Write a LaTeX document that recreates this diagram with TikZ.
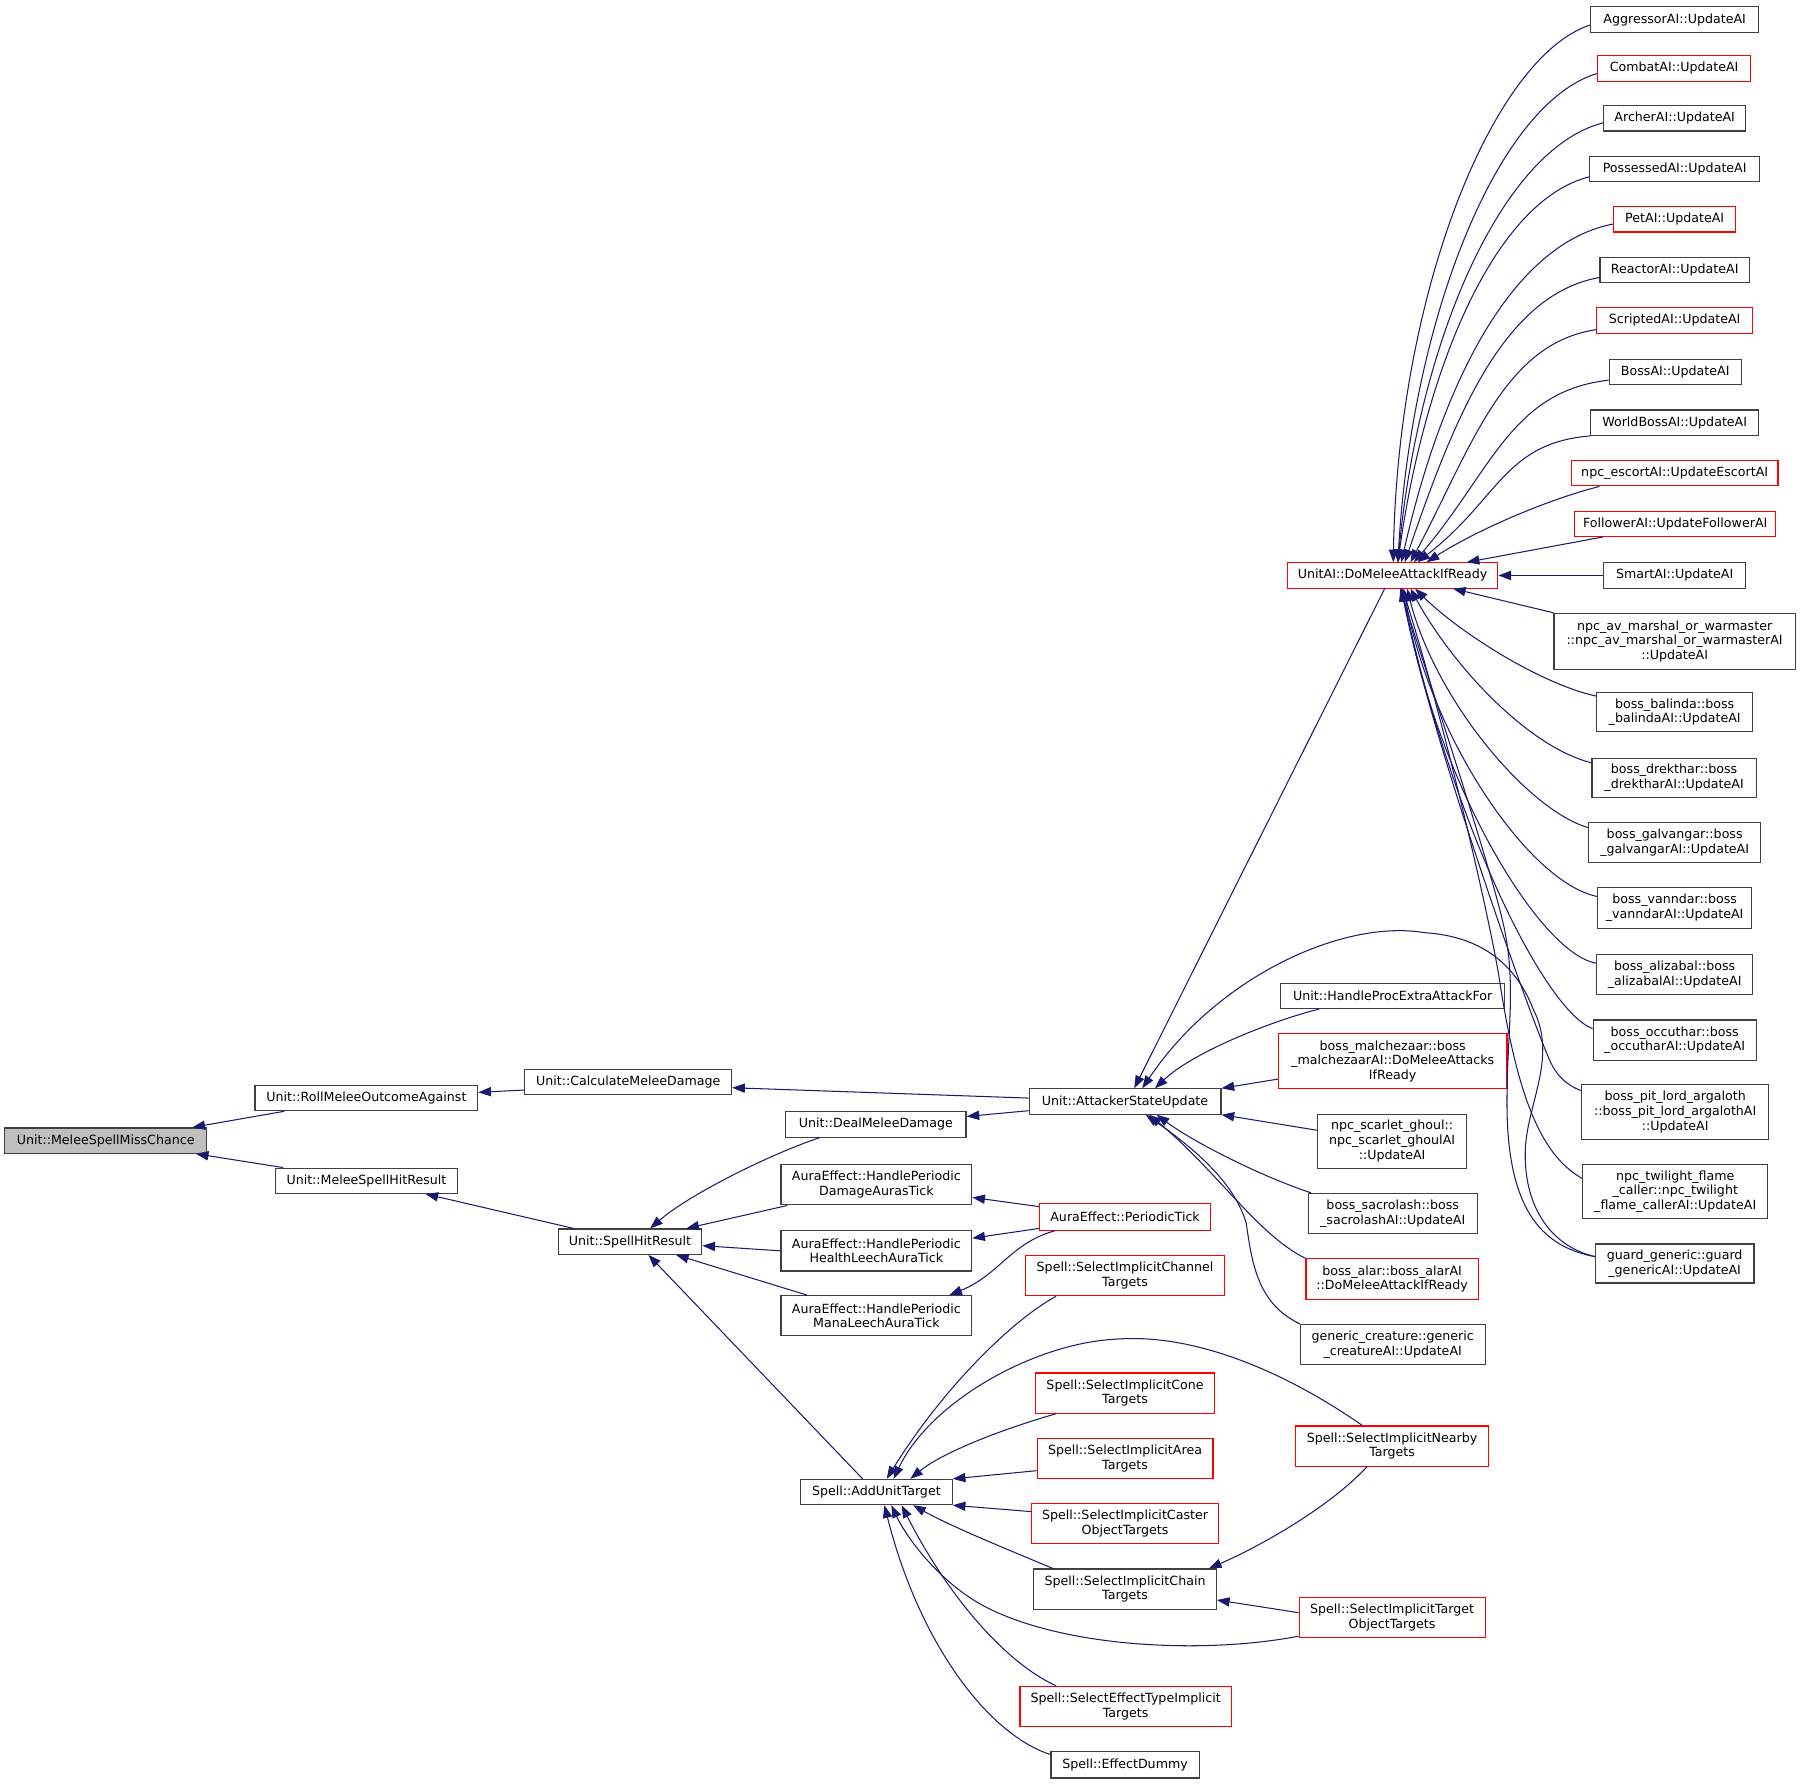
\documentclass[tikz,border=0pt]{standalone}
\usepackage{fontspec}
\setmainfont{DejaVu Sans}
\usetikzlibrary{arrows.meta,calc}
\definecolor{edgeblue}{HTML}{191970}
\definecolor{boxred}{HTML}{FF0000}
\definecolor{boxgray}{HTML}{BFBFBF}
\definecolor{boxblack}{HTML}{404040}
\begin{document}
\begin{tikzpicture}[x=1pt,y=-1pt,
  box/.style={draw=boxblack, line width=1pt, fill=white, inner sep=0pt, align=center,
    font=\fontsize{11}{12.8}\selectfont},
  rbox/.style={box, draw=boxred},
  edge/.style={draw=edgeblue, line width=0.9pt, -{Triangle[length=11pt,width=8pt]}}]
\fill[white] (0,0) rectangle (1568,1553);
\useasboundingbox (0,0) rectangle (1568,1553);

% ---------------- left part ----------------
\node[box,fill=boxgray,minimum width=176,minimum height=22] (ms) at (92,993) {Unit::MeleeSpellMissChance};
\node[box,minimum width=194,minimum height=22] (roll) at (319,956) {Unit::RollMeleeOutcomeAgainst};
\node[box,minimum width=158,minimum height=22] (mshr) at (319,1028) {Unit::MeleeSpellHitResult};
\node[box,minimum width=180,minimum height=22] (calc) at (547,942) {Unit::CalculateMeleeDamage};
\node[box,minimum width=125,minimum height=22] (shr) at (548.5,1081) {Unit::SpellHitResult};
\node[box,minimum width=157,minimum height=22] (deal) at (762.5,979) {Unit::DealMeleeDamage};
\node[box,minimum width=166,minimum height=35] (dmg) at (763,1031.5) {AuraEffect::HandlePeriodic\\DamageAurasTick};
\node[box,minimum width=166,minimum height=35] (hl) at (763,1089) {AuraEffect::HandlePeriodic\\HealthLeechAuraTick};
\node[box,minimum width=166,minimum height=35] (mana) at (763,1145.5) {AuraEffect::HandlePeriodic\\ManaLeechAuraTick};
\node[rbox,minimum width=149,minimum height=23] (pt) at (979.5,1059.5) {AuraEffect::PeriodicTick};
\node[box,minimum width=167,minimum height=22] (asu) at (979.5,959) {Unit::AttackerStateUpdate};
\node[box,minimum width=132,minimum height=22] (aut) at (763,1299) {Spell::AddUnitTarget};
\node[rbox,minimum width=173,minimum height=35] (chan) at (979.5,1110.5) {Spell::SelectImplicitChannel\\Targets};
\node[rbox,minimum width=156,minimum height=35] (cone) at (979.5,1212.8) {Spell::SelectImplicitCone\\Targets};
\node[rbox,minimum width=153,minimum height=35] (area) at (979.5,1269.7) {Spell::SelectImplicitArea\\Targets};
\node[rbox,minimum width=163,minimum height=35] (cast) at (979.5,1326.5) {Spell::SelectImplicitCaster\\ObjectTargets};
\node[box,minimum width=159,minimum height=35] (chain) at (979.5,1383.5) {Spell::SelectImplicitChain\\Targets};
\node[rbox,minimum width=184,minimum height=35] (efft) at (980,1485.7) {Spell::SelectEffectTypeImplicit\\Targets};
\node[box,minimum width=129,minimum height=23] (dummy) at (979.5,1536.5) {Spell::EffectDummy};
\node[rbox,minimum width=168,minimum height=35] (near) at (1212,1259) {Spell::SelectImplicitNearby\\Targets};
\node[rbox,minimum width=162,minimum height=35] (tobj) at (1212,1408.5) {Spell::SelectImplicitTarget\\ObjectTargets};

% ---------------- middle column ----------------
\node[rbox,minimum width=183,minimum height=22] (dm) at (1212.5,501) {UnitAI::DoMeleeAttackIfReady};
\node[box,minimum width=195,minimum height=22] (hpe) at (1212.5,867) {Unit::HandleProcExtraAttackFor};
\node[rbox,minimum width=199,minimum height=48] (mal) at (1212.5,924) {boss\_malchezaar::boss\\\_malchezaarAI::DoMeleeAttacks\\IfReady};
\node[box,minimum width=130,minimum height=47] (scg) at (1212,993.5) {npc\_scarlet\_ghoul::\\npc\_scarlet\_ghoulAI\\::UpdateAI};
\node[box,minimum width=147,minimum height=35] (sac) at (1212.5,1056.5) {boss\_sacrolash::boss\\\_sacrolashAI::UpdateAI};
\node[rbox,minimum width=150,minimum height=35] (alar) at (1212,1113.5) {boss\_alar::boss\_alarAI\\::DoMeleeAttackIfReady};
\node[box,minimum width=161,minimum height=35] (gen) at (1212.5,1170.5) {generic\_creature::generic\\\_creatureAI::UpdateAI};

% ---------------- right column ----------------
\node[box,minimum width=146,minimum height=22] (agg) at (1458,17) {AggressorAI::UpdateAI};
\node[rbox,minimum width=133,minimum height=23] (com) at (1457.5,59.5) {CombatAI::UpdateAI};
\node[box,minimum width=124,minimum height=22] (arc) at (1458,103) {ArcherAI::UpdateAI};
\node[box,minimum width=148,minimum height=22] (pos) at (1458,147) {PossessedAI::UpdateAI};
\node[rbox,minimum width=106,minimum height=22] (pet) at (1458,191) {PetAI::UpdateAI};
\node[box,minimum width=130,minimum height=22] (rea) at (1458,235) {ReactorAI::UpdateAI};
\node[rbox,minimum width=136,minimum height=22] (scr) at (1458,279) {ScriptedAI::UpdateAI};
\node[box,minimum width=115,minimum height=22] (bos) at (1458.5,324) {BossAI::UpdateAI};
\node[box,minimum width=146,minimum height=22] (wbo) at (1458,368) {WorldBossAI::UpdateAI};
\node[rbox,minimum width=180,minimum height=22] (esc) at (1458,412) {npc\_escortAI::UpdateEscortAI};
\node[rbox,minimum width=175,minimum height=22] (fol) at (1458.5,456) {FollowerAI::UpdateFollowerAI};
\node[box,minimum width=124,minimum height=22] (sma) at (1458,501) {SmartAI::UpdateAI};
\node[box,minimum width=210,minimum height=49] (av) at (1458,558.5) {npc\_av\_marshal\_or\_warmaster\\::npc\_av\_marshal\_or\_warmasterAI\\::UpdateAI};
\node[box,minimum width=136,minimum height=34] (bal) at (1458,620) {boss\_balinda::boss\\\_balindaAI::UpdateAI};
\node[box,minimum width=143,minimum height=34] (dre) at (1457.5,677) {boss\_drekthar::boss\\\_drektharAI::UpdateAI};
\node[box,minimum width=150,minimum height=35] (gal) at (1458,733.5) {boss\_galvangar::boss\\\_galvangarAI::UpdateAI};
\node[box,minimum width=134,minimum height=35] (van) at (1458,790.5) {boss\_vanndar::boss\\\_vanndarAI::UpdateAI};
\node[box,minimum width=136,minimum height=35] (ali) at (1458,848.5) {boss\_alizabal::boss\\\_alizabalAI::UpdateAI};
\node[box,minimum width=142,minimum height=35] (occ) at (1458,905.5) {boss\_occuthar::boss\\\_occutharAI::UpdateAI};
\node[box,minimum width=163,minimum height=48] (pit) at (1458.5,968) {boss\_pit\_lord\_argaloth\\::boss\_pit\_lord\_argalothAI\\::UpdateAI};
\node[box,minimum width=161,minimum height=47] (twi) at (1458.5,1037.5) {npc\_twilight\_flame\\\_caller::npc\_twilight\\\_flame\_callerAI::UpdateAI};
\node[box,minimum width=138,minimum height=34] (gua) at (1458,1100) {guard\_generic::guard\\\_genericAI::UpdateAI};

% ---------------- edges: left ----------------
\draw[edge] ($(roll.south west)+(26,0)$) -- ($(ms.north east)+(-13,0)$);
\draw[edge] ($(mshr.north west)+(7,0)$) -- ($(ms.south east)+(-10,0)$);
\draw[edge] ($(calc.west)+(0,7)$) -- ($(roll.east)+(0,-5)$);
\draw[edge] ($(shr.north west)+(14,0)$) -- ($(mshr.south east)+(-28,0)$);
\draw[edge] ($(asu.west)+(0,-3)$) -- ($(calc.east)+(0,5)$);
\draw[edge] ($(asu.west)+(0,8)$) -- ($(deal.east)+(0,-7)$);
\draw[edge] ($(deal.south west)+(30,0)$) .. controls (670,1005) and (600,1040) .. ($(shr.north)+(17.5,0)$);
\draw[edge] ($(dmg.south west)+(6,0)$) -- ($(shr.north east)+(-14,0)$);
\draw[edge] (hl.west) -- ($(shr.east)+(0,3.5)$);
\draw[edge] ($(mana.north west)+(23,0)$) -- ($(shr.south)+(40,0)$);
\draw[edge] ($(aut.north)+(-12,0)$) -- ($(shr.south)+(16,0)$);
\draw[edge] ($(pt.west)+(0,-9)$) -- ($(dmg.east)+(0,11)$);
\draw[edge] ($(pt.west)+(0,10)$) -- ($(hl.east)+(0,-11)$);
\draw[edge] ($(pt.south west)+(14,0)$) .. controls (880,1082) and (870,1110) .. ($(mana.north east)+(-20,0)$);

% ---------------- edges: into AttackerStateUpdate ----------------
\draw[edge] ($(dm.south)+(-7,0)$) -- ($(asu.north)+(8,0)$);
\draw[edge] ($(hpe.south west)+(34,0)$) .. controls (1110,888) and (1040,915) .. ($(asu.north)+(26,0)$);
\draw[edge] ($(mal.south west)+(0,-9)$) -- (asu.north east);
\draw[edge] ($(scg.west)+(0,-9.5)$) -- (asu.south east);
\draw[edge] ($(sac.north west)+(3,0)$) .. controls (1100,1025) and (1040,995) .. ($(asu.south)+(27.5,0)$);
\draw[edge] (alar.north west) .. controls (1095,1075) and (1060,1020) .. ($(asu.south)+(21,0)$);
\draw[edge] (gen.north west) .. controls (1095,1135) and (1090,1100) .. (1085,1065)
  .. controls (1075,1030) and (1040,1000) .. ($(asu.south)+(18,0)$);
\draw[edge] ($(gua.west)+(0,-6)$) .. controls (1350,1085) and (1326,1050) .. (1328,1000)
  .. controls (1330,960) and (1356,920) .. (1335,879)
  .. controls (1320,840) and (1290,815) .. (1240,812)
  .. controls (1170,800) and (1060,850) .. ($(asu.north)+(15,0)$);

% ---------------- edges: top fan into DoMeleeAttackIfReady ----------------
\draw[edge] ($(agg.west)+(0,4.7)$) .. controls (1299,49.8) and (1217,256) .. ($(dm.north)+(0.5,0)$);
\draw[edge] ($(com.west)+(0,4.5)$) .. controls (1304,89.6) and (1229,277) .. ($(dm.north)+(4.5,0)$);
\draw[edge] ($(arc.west)+(0,4)$) .. controls (1306.5,130) and (1235,298.5) .. ($(dm.north)+(4.5,0)$);
\draw[edge] ($(pos.west)+(0,7)$) .. controls (1300.5,175) and (1240.4,322.5) .. ($(dm.north)+(4.5,0)$);
\draw[edge] ($(pet.west)+(0,4)$) .. controls (1312.5,212.7) and (1253.3,342.5) .. ($(dm.north)+(7.5,0)$);
\draw[edge] ($(rea.west)+(0,6.6)$) .. controls (1308,256.5) and (1265.5,365.8) .. ($(dm.north)+(10.5,0)$);
\draw[edge] ($(scr.west)+(0,8)$) .. controls (1309,299.2) and (1281.5,388.5) .. ($(dm.north)+(15.5,0)$);
\draw[edge] ($(bos.west)+(0,7)$) .. controls (1315.5,340.5) and (1298.6,410.5) .. ($(dm.north)+(18.5,0)$);
\draw[edge] (wbo.south west) .. controls (1309.5,385.7) and (1305,434.5) .. ($(dm.north)+(21.5,0)$);
\draw[edge] ($(esc.south west)+(25,0)$) .. controls (1340,437) and (1280,465) .. ($(dm.north)+(29.5,0)$);
\draw[edge] ($(fol.south west)+(25,0)$) -- ($(dm.north)+(64.5,0)$);
\draw[edge] (sma.west) -- (dm.east);

% ---------------- edges: bottom fan into DoMeleeAttackIfReady ----------------
\draw[edge] (av.north west) -- ($(dm.south)+(52.5,0)$);
\draw[edge] ($(bal.north west)+(0,3.5)$) .. controls (1340,595) and (1270,550) .. ($(dm.south)+(19.5,0)$);
\draw[edge] ($(dre.north west)+(0,4.6)$) .. controls (1330,650) and (1265,580) .. ($(dm.south)+(15.5,0)$);
\draw[edge] ($(gal.north west)+(0,5)$) .. controls (1330,705) and (1250,610) .. ($(dm.south)+(12.5,0)$);
\draw[edge] ($(van.north west)+(0,8)$) .. controls (1330,768) and (1245,640) .. ($(dm.south)+(9.5,0)$);
\draw[edge] ($(ali.north west)+(0,8)$) .. controls (1340,830) and (1250,680) .. ($(dm.south)+(8.5,0)$);
\draw[edge] ($(occ.north west)+(0,8)$) .. controls (1345,880) and (1265,720) .. ($(dm.south)+(7.5,0)$);
\draw[edge] ($(pit.north west)+(0,6)$) .. controls (1362,944) and (1355,935) .. (1350,925)
  .. controls (1330,880) and (1245,640) .. ($(dm.south)+(7.5,0)$);
\draw[edge] ($(twi.west)+(0,-11.5)$) .. controls (1340,1005) and (1320,950) .. (1305,850)
  .. controls (1295,790) and (1255,620) .. ($(dm.south)+(8.5,0)$);
\draw[edge] ($(gua.west)+(0,-6)$) .. controls (1340,1085) and (1312,1050) .. (1312,960)
  .. controls (1312,900) and (1320,860) .. (1310,810)
  .. controls (1300,760) and (1240,580) .. ($(dm.south)+(6.5,0)$);

% ---------------- edges: into AddUnitTarget ----------------
\draw[edge] ($(chan.south west)+(27,0)$) .. controls (880,1150) and (820,1210) .. ($(aut.north)+(9,0)$);
\draw[edge] ($(near.north)+(-26,0)$) .. controls (1120,1195) and (1040,1160) .. (970,1166)
  .. controls (900,1170) and (810,1220) .. ($(aut.north)+(15,0)$);
\draw[edge] ($(cone.south west)+(18.5,0)$) .. controls (870,1245) and (820,1265) .. ($(aut.north east)+(-37,0)$);
\draw[edge] ($(area.west)+(0,10.7)$) -- (aut.north east);
\draw[edge] ($(cast.west)+(0,-10.5)$) -- (aut.south east);
\draw[edge] ($(chain.north west)+(17,0)$) .. controls (880,1350) and (830,1330) .. ($(aut.south)+(32,0)$);
\draw[edge] ($(tobj.south west)+(0,-2)$) .. controls (1050,1440) and (930,1435) .. (860,1400)
  .. controls (820,1380) and (790,1340) .. ($(aut.south)+(13,0)$);
\draw[edge] ($(efft.north west)+(32,0)$) .. controls (870,1445) and (820,1380) .. ($(aut.south)+(22,0)$);
\draw[edge] ($(dummy.north west)+(0,3)$) .. controls (860,1510) and (800,1430) .. ($(aut.south)+(7,0)$);
\draw[edge] ($(near.south)+(-22,0)$) .. controls (1160,1310) and (1100,1345) .. ($(chain.north east)+(-7,0)$);
\draw[edge] ($(tobj.west)+(0,-4.5)$) -- ($(chain.east)+(0,9.5)$);
\end{tikzpicture}
\end{document}
